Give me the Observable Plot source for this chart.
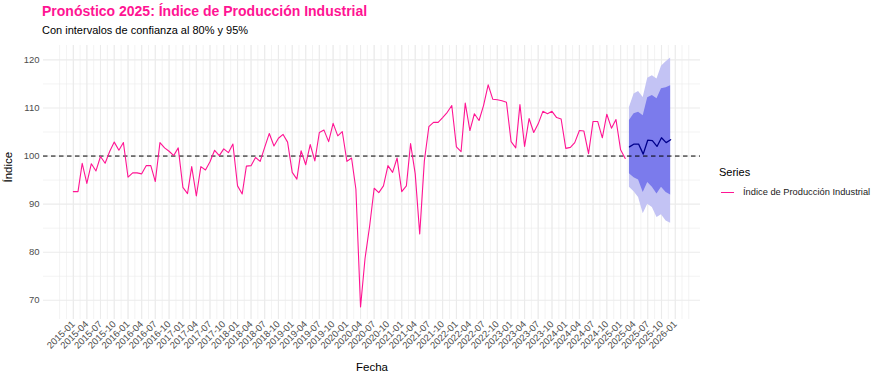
<!DOCTYPE html>
<html>
<head>
<meta charset="utf-8">
<script src="https://cdn.jsdelivr.net/npm/d3@7"></script>
<script src="https://cdn.jsdelivr.net/npm/@observablehq/plot@0.6"></script>
<style>
  html, body { margin: 0; padding: 0; background: #fff; }
  #wrap { position: relative; width: 884px; height: 377px; font-family: "Liberation Sans", Arial, sans-serif; }
  #title { position: absolute; left: 42px; top: 3px; font-size: 14px; font-weight: bold; color: #FF1493; white-space: nowrap; }
  #subtitle { position: absolute; left: 42px; top: 24px; font-size: 11px; color: #000; white-space: nowrap; }
  #legend { position: absolute; left: 719px; top: 166px; }
  #legend .lt { font-size: 11px; color: #000; }
  #legend .row { display: flex; align-items: center; margin-top: 9px; }
  #legend .key { width: 13px; height: 0; border-top: 1.2px solid #FF1493; margin-left: 2px; }
  #legend .lab { font-size: 9.3px; color: #1a1a1a; margin-left: 9px; }
</style>
</head>
<body>
<div id="wrap">
  <div id="chart"></div>
  <div id="title">Pronóstico 2025: Índice de Producción Industrial</div>
  <div id="subtitle">Con intervalos de confianza al 80% y 95%</div>
  <div id="legend">
    <div class="lt">Series</div>
    <div class="row"><div class="key"></div><div class="lab">Índice de Producción Industrial</div></div>
  </div>
</div>
<script>
// Monthly series, starting 2015-01
const seriesStart = [2015, 0];
const ipi = [
  92.6, 92.6, 98.5, 94.3, 98.4, 96.9, 99.9, 98.5, 101.0, 102.9, 101.2, 102.8,
  95.6, 96.5, 96.5, 96.3, 98.0, 98.0, 94.7, 102.8, 101.7, 101.0, 100.1, 101.7,
  93.5, 92.2, 97.8, 91.7, 97.8, 97.1, 98.8, 101.2, 100.1, 101.5, 100.7, 102.5,
  93.8, 92.1, 97.9, 98.0, 99.7, 98.9, 101.8, 104.7, 102.1, 103.7, 104.5, 102.9,
  96.6, 95.2, 101.1, 98.2, 102.4, 99.0, 104.9, 105.4, 103.0, 106.8, 104.2, 105.1,
  98.9, 99.6, 93.1, 68.6, 78.7, 85.5, 93.3, 92.4, 93.8, 98.0, 96.6, 99.6,
  92.6, 93.8, 102.6, 96.3, 83.8, 99.0, 106.1, 107.0, 107.0, 108.0, 109.1, 110.5,
  101.9, 100.9, 111.0, 105.3, 108.8, 107.4, 110.5, 114.8, 111.8, 111.7, 111.5, 111.2,
  103.0, 101.7, 110.7, 102.0, 107.8, 104.9, 106.7, 109.3, 108.8, 109.3, 108.0, 107.7,
  101.6, 101.8, 102.8, 105.3, 105.2, 100.5, 107.2, 107.2, 103.8, 108.7, 105.8, 107.6,
  101.3, 99.5
];
// Forecast, continuing right after the observed series (2025-03 .. 2025-12)
const fcMean = [101.9, 102.5, 102.5, 100.4, 103.3, 103.2, 102.0, 103.8, 102.8, 103.4];
const fcLo80 = [96.3, 95.5, 95.0, 92.4, 94.5, 93.5, 92.1, 93.5, 92.4, 91.9];
const fcHi80 = [107.4, 108.8, 109.1, 108.4, 112.1, 112.6, 111.9, 114.0, 114.2, 114.6];
const fcLo95 = [93.5, 92.6, 91.4, 88.0, 90.0, 89.3, 87.2, 87.8, 86.5, 86.0];
const fcHi95 = [110.1, 112.9, 113.4, 112.2, 116.2, 116.7, 116.0, 118.7, 119.6, 120.4];
const yMajor = [70, 80, 90, 100, 110, 120];
const yMinor = [75, 85, 95, 105, 115];
const refLine = [100];
const tickFirst = new Date(Date.UTC(2015, 0, 1));
const tickLast = new Date(Date.UTC(2026, 0, 1));

const monthDate = (k) => new Date(Date.UTC(seriesStart[0], seriesStart[1] + k, 1));
const hist = ipi.map((v, i) => ({date: monthDate(i), value: v}));
const fc = fcMean.map((v, i) => ({
  date: monthDate(ipi.length + i), mean: v,
  lo80: fcLo80[i], hi80: fcHi80[i], lo95: fcLo95[i], hi95: fcHi95[i]
}));

const d0 = hist[0].date, d1 = fc[fc.length - 1].date;
const span = d1 - d0;
const xDomain = [new Date(+d0 - 0.05 * span), new Date(+d1 + 0.05 * span)];
const yLo = Math.min(...ipi, ...fcLo95), yHi = Math.max(...ipi, ...fcHi95);
const yPad = 0.05 * (yHi - yLo);
const yDomain = [yLo - yPad, yHi + yPad];

const qTicks = d3.utcMonth.every(3).range(tickFirst, new Date(+tickLast + 1));
const gridMinor = [];
const ext = [d3.utcMonth.offset(qTicks[0], -3), ...qTicks, d3.utcMonth.offset(qTicks[qTicks.length - 1], 3)];
for (let k = 0; k < ext.length; k++) {
  gridMinor.push(ext[k]);
  if (k < ext.length - 1) gridMinor.push(new Date((+ext[k] + +ext[k + 1]) / 2));
}
const gridMinorIn = gridMinor.filter(d => d >= xDomain[0] && d <= xDomain[1]);
const fmt = d3.utcFormat("%Y-%m");

const chart = Plot.plot({
  width: 884, height: 377,
  marginLeft: 43, marginRight: 184, marginTop: 45, marginBottom: 58,
  style: {fontFamily: "'Liberation Sans', Arial, sans-serif", background: "transparent", overflow: "visible"},
  x: {type: "utc", domain: xDomain},
  y: {domain: yDomain},
  marks: [
    Plot.ruleX(gridMinorIn, {stroke: "#ebebeb", strokeWidth: 0.6}),
    Plot.ruleX(qTicks, {stroke: "#ebebeb", strokeWidth: 1.1}),
    Plot.ruleY(yMinor, {stroke: "#ebebeb", strokeWidth: 0.6}),
    Plot.ruleY(yMajor, {stroke: "#ebebeb", strokeWidth: 1.1}),
    Plot.areaY(fc, {x: "date", y1: "lo95", y2: "hi95", fill: "#c3c3f4", curve: "linear"}),
    Plot.areaY(fc, {x: "date", y1: "lo80", y2: "hi80", fill: "#7b7bec", curve: "linear"}),
    Plot.ruleY(refLine, {stroke: "#000", strokeWidth: 1, strokeDasharray: "4.5,3.5"}),
    Plot.lineY(hist, {x: "date", y: "value", stroke: "#FF1493", strokeWidth: 1.1}),
    Plot.lineY(fc, {x: "date", y: "mean", stroke: "#00008B", strokeWidth: 1.3}),
    Plot.axisX(qTicks, {tickFormat: fmt, tickRotate: -45, tickSize: 0, tickPadding: 3, fontSize: 9.5, fill: "#4d4d4d", label: null}),
    Plot.axisY(yMajor, {tickSize: 0, tickPadding: 4, fontSize: 9.5, fill: "#4d4d4d", label: null}),
    Plot.text(["Fecha"], {frameAnchor: "bottom", dy: 51, fontSize: 11.5, fill: "#000"}),
    Plot.text(["Índice"], {frameAnchor: "left", dx: -35, rotate: -90, fontSize: 11.5, fill: "#000"})
  ]
});
document.getElementById("chart").appendChild(chart);
</script>
</body>
</html>
